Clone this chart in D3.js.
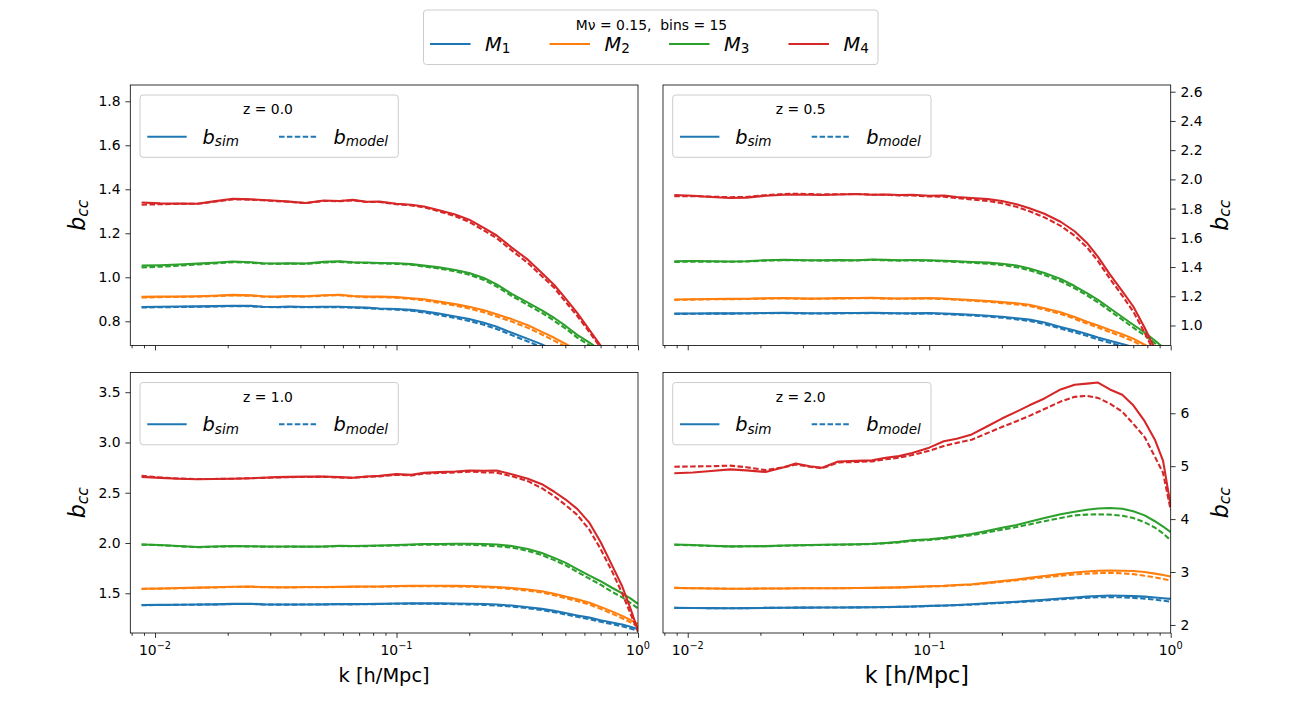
<!DOCTYPE html>
<html>
<head>
<meta charset="utf-8">
<script src="https://cdn.jsdelivr.net/npm/d3@7"></script>
<style>
  body { margin: 0; background: #fff; }
  text { font-family: "DejaVu Sans", sans-serif; fill: #000; }
</style>
</head>
<body>
<svg width="1301" height="710"></svg>
<script>
// wavenumbers shared by every curve
const k = [0.0088, 0.0105, 0.0125, 0.015, 0.0175, 0.021, 0.025, 0.028, 0.032, 0.036, 0.042, 0.05,
           0.058, 0.066, 0.075, 0.085, 0.1, 0.115, 0.13, 0.15, 0.175, 0.2, 0.23, 0.26,
           0.3, 0.35, 0.4, 0.45, 0.5, 0.56, 0.63, 0.7, 0.78, 0.86, 0.93, 1.0];

const massNames = ["1", "2", "3", "4"];
const redshifts = ["0.0", "0.5", "1.0", "2.0"];
const colors = ["#1f77b4", "#ff7f0e", "#2ca02c", "#d62728"];

// z = 0.0
const simZ0 = [
  [0.865, 0.866, 0.867, 0.868, 0.869, 0.871, 0.87, 0.866, 0.865, 0.867, 0.865, 0.866, 0.866, 0.864, 0.862, 0.858, 0.856, 0.852, 0.845, 0.835, 0.822, 0.81, 0.793, 0.775, 0.748, 0.72, 0.695, 0.668, 0.64, 0.61, 0.575, 0.54, 0.5, 0.46, 0.42, 0.38],
  [0.911, 0.912, 0.913, 0.914, 0.916, 0.92, 0.918, 0.914, 0.912, 0.915, 0.914, 0.918, 0.921, 0.915, 0.912, 0.912, 0.91, 0.905, 0.9, 0.89, 0.878, 0.866, 0.85, 0.832, 0.81, 0.782, 0.752, 0.725, 0.698, 0.668, 0.63, 0.59, 0.55, 0.51, 0.47, 0.43],
  [1.053, 1.055, 1.058, 1.062, 1.066, 1.072, 1.068, 1.064, 1.063, 1.064, 1.063, 1.07, 1.073, 1.068, 1.067, 1.065, 1.064, 1.06, 1.053, 1.045, 1.033, 1.02, 0.997, 0.968, 0.925, 0.885, 0.85, 0.815, 0.78, 0.738, 0.703, 0.668, 0.62, 0.57, 0.52, 0.47],
  [1.340, 1.336, 1.335, 1.334, 1.345, 1.357, 1.354, 1.351, 1.348, 1.344, 1.338, 1.349, 1.347, 1.352, 1.343, 1.344, 1.334, 1.330, 1.322, 1.305, 1.285, 1.262, 1.225, 1.19, 1.135, 1.08, 1.02, 0.965, 0.905, 0.838, 0.76, 0.69, 0.60, 0.50, 0.42, 0.34]
];
const modelZ0 = [
  [0.863, 0.864, 0.865, 0.866, 0.867, 0.869, 0.868, 0.865, 0.864, 0.865, 0.864, 0.864, 0.864, 0.862, 0.86, 0.856, 0.853, 0.848, 0.84, 0.829, 0.815, 0.802, 0.784, 0.765, 0.737, 0.708, 0.682, 0.655, 0.627, 0.597, 0.562, 0.528, 0.49, 0.45, 0.41, 0.37],
  [0.908, 0.91, 0.911, 0.912, 0.914, 0.918, 0.916, 0.912, 0.91, 0.913, 0.912, 0.916, 0.919, 0.913, 0.91, 0.91, 0.907, 0.901, 0.895, 0.884, 0.871, 0.858, 0.841, 0.822, 0.799, 0.77, 0.74, 0.712, 0.685, 0.655, 0.618, 0.578, 0.54, 0.5, 0.46, 0.42],
  [1.045, 1.048, 1.053, 1.058, 1.063, 1.069, 1.066, 1.062, 1.061, 1.062, 1.061, 1.067, 1.07, 1.066, 1.065, 1.063, 1.061, 1.057, 1.049, 1.04, 1.027, 1.012, 0.988, 0.958, 0.915, 0.874, 0.838, 0.802, 0.768, 0.726, 0.69, 0.655, 0.61, 0.56, 0.51, 0.46],
  [1.330, 1.332, 1.334, 1.334, 1.343, 1.354, 1.353, 1.35, 1.346, 1.343, 1.337, 1.347, 1.346, 1.35, 1.342, 1.342, 1.332, 1.327, 1.318, 1.3, 1.278, 1.252, 1.213, 1.178, 1.122, 1.065, 1.005, 0.952, 0.89, 0.825, 0.75, 0.68, 0.59, 0.5, 0.42, 0.34]
];

// z = 0.5
const simZ05 = [
  [1.081, 1.082, 1.083, 1.083, 1.084, 1.086, 1.087, 1.085, 1.084, 1.084, 1.085, 1.086, 1.087, 1.085, 1.084, 1.084, 1.085, 1.082, 1.078, 1.073, 1.067, 1.06, 1.05, 1.04, 1.02, 0.99, 0.965, 0.942, 0.918, 0.896, 0.873, 0.852, 0.827, 0.8, 0.775, 0.75],
  [1.178, 1.18, 1.181, 1.182, 1.183, 1.186, 1.188, 1.186, 1.184, 1.185, 1.187, 1.188, 1.189, 1.186, 1.185, 1.186, 1.188, 1.185, 1.18, 1.175, 1.168, 1.16, 1.152, 1.142, 1.118, 1.09, 1.058, 1.025, 1.0, 0.97, 0.94, 0.91, 0.868, 0.83, 0.8, 0.77],
  [1.44, 1.441, 1.44, 1.438, 1.44, 1.447, 1.45, 1.448, 1.447, 1.446, 1.448, 1.447, 1.452, 1.449, 1.447, 1.448, 1.447, 1.443, 1.44, 1.435, 1.43, 1.423, 1.41, 1.39, 1.36, 1.318, 1.27, 1.222, 1.175, 1.118, 1.058, 1.005, 0.952, 0.897, 0.85, 0.80],
  [1.893, 1.888, 1.88, 1.872, 1.875, 1.888, 1.895, 1.897, 1.895, 1.893, 1.896, 1.9, 1.895, 1.897, 1.893, 1.895, 1.888, 1.89, 1.88, 1.872, 1.865, 1.852, 1.83, 1.803, 1.765, 1.71, 1.645, 1.565, 1.47, 1.35, 1.235, 1.13, 0.985, 0.84, 0.7, 0.55]
];
const modelZ05 = [
  [1.079, 1.08, 1.081, 1.081, 1.082, 1.084, 1.085, 1.083, 1.082, 1.082, 1.083, 1.084, 1.085, 1.083, 1.082, 1.081, 1.082, 1.078, 1.074, 1.068, 1.061, 1.053, 1.042, 1.031, 1.01, 0.979, 0.953, 0.929, 0.904, 0.881, 0.857, 0.835, 0.809, 0.782, 0.756, 0.73],
  [1.175, 1.177, 1.179, 1.18, 1.181, 1.184, 1.186, 1.184, 1.182, 1.183, 1.185, 1.186, 1.187, 1.184, 1.183, 1.183, 1.185, 1.181, 1.176, 1.17, 1.162, 1.153, 1.144, 1.133, 1.108, 1.079, 1.046, 1.013, 0.986, 0.955, 0.924, 0.893, 0.85, 0.812, 0.78, 0.75],
  [1.435, 1.437, 1.437, 1.436, 1.438, 1.444, 1.447, 1.446, 1.445, 1.444, 1.445, 1.445, 1.449, 1.446, 1.444, 1.445, 1.443, 1.439, 1.435, 1.429, 1.423, 1.414, 1.399, 1.378, 1.346, 1.303, 1.255, 1.206, 1.158, 1.1, 1.04, 0.985, 0.932, 0.878, 0.83, 0.78],
  [1.885, 1.885, 1.882, 1.878, 1.88, 1.892, 1.9, 1.902, 1.9, 1.897, 1.898, 1.9, 1.895, 1.895, 1.89, 1.89, 1.883, 1.882, 1.872, 1.862, 1.852, 1.837, 1.812, 1.782, 1.74, 1.682, 1.615, 1.535, 1.44, 1.32, 1.205, 1.095, 0.95, 0.81, 0.67, 0.52]
];

// z = 1.0
const simZ1 = [
  [1.384, 1.385, 1.386, 1.388, 1.39, 1.395, 1.396, 1.39, 1.388, 1.388, 1.389, 1.39, 1.394, 1.392, 1.393, 1.395, 1.398, 1.4, 1.4, 1.4, 1.398, 1.396, 1.393, 1.388, 1.378, 1.362, 1.345, 1.325, 1.303, 1.28, 1.258, 1.232, 1.21, 1.19, 1.168, 1.145],
  [1.545, 1.548, 1.552, 1.556, 1.56, 1.565, 1.566, 1.562, 1.56, 1.56, 1.562, 1.563, 1.564, 1.566, 1.567, 1.568, 1.572, 1.574, 1.575, 1.575, 1.574, 1.572, 1.568, 1.563, 1.553, 1.538, 1.52, 1.495, 1.468, 1.44, 1.405, 1.365, 1.32, 1.275, 1.235, 1.195],
  [1.986, 1.98, 1.97, 1.96, 1.965, 1.97, 1.968, 1.966, 1.965, 1.966, 1.964, 1.966, 1.972, 1.97, 1.972, 1.975, 1.98, 1.985, 1.99, 1.99, 1.992, 1.993, 1.99, 1.985, 1.97, 1.94, 1.9, 1.852, 1.805, 1.74, 1.675, 1.62, 1.555, 1.5, 1.45, 1.395],
  [2.658, 2.648, 2.64, 2.635, 2.636, 2.64, 2.645, 2.65, 2.655, 2.658, 2.66, 2.662, 2.655, 2.65, 2.662, 2.668, 2.685, 2.678, 2.698, 2.705, 2.712, 2.722, 2.718, 2.722, 2.685, 2.64, 2.585, 2.51, 2.435, 2.34, 2.2, 2.01, 1.78, 1.57, 1.35, 1.13]
];
const modelZ1 = [
  [1.382, 1.383, 1.385, 1.387, 1.389, 1.393, 1.394, 1.389, 1.387, 1.387, 1.388, 1.389, 1.392, 1.39, 1.391, 1.393, 1.396, 1.397, 1.396, 1.395, 1.392, 1.389, 1.385, 1.379, 1.368, 1.351, 1.333, 1.312, 1.29, 1.266, 1.243, 1.217, 1.194, 1.172, 1.15, 1.125],
  [1.543, 1.546, 1.55, 1.554, 1.558, 1.563, 1.564, 1.56, 1.558, 1.558, 1.56, 1.561, 1.562, 1.564, 1.565, 1.565, 1.569, 1.57, 1.571, 1.57, 1.568, 1.565, 1.56, 1.554, 1.543, 1.527, 1.507, 1.48, 1.452, 1.423, 1.387, 1.345, 1.298, 1.252, 1.212, 1.17],
  [1.984, 1.978, 1.968, 1.958, 1.963, 1.968, 1.966, 1.964, 1.963, 1.964, 1.962, 1.964, 1.97, 1.968, 1.969, 1.972, 1.976, 1.98, 1.984, 1.983, 1.983, 1.982, 1.976, 1.968, 1.955, 1.922, 1.88, 1.83, 1.78, 1.712, 1.645, 1.585, 1.515, 1.46, 1.405, 1.35],
  [2.668, 2.652, 2.642, 2.636, 2.637, 2.64, 2.645, 2.648, 2.652, 2.655, 2.657, 2.658, 2.652, 2.648, 2.658, 2.663, 2.678, 2.672, 2.69, 2.696, 2.702, 2.71, 2.703, 2.7, 2.665, 2.615, 2.545, 2.465, 2.38, 2.28, 2.13, 1.94, 1.72, 1.5, 1.3, 1.12]
];

// z = 2.0
const simZ2 = [
  [2.322, 2.32, 2.318, 2.316, 2.318, 2.322, 2.325, 2.327, 2.328, 2.329, 2.33, 2.332, 2.334, 2.338, 2.342, 2.348, 2.36, 2.368, 2.378, 2.39, 2.41, 2.425, 2.44, 2.455, 2.475, 2.5, 2.52, 2.535, 2.548, 2.555, 2.553, 2.545, 2.535, 2.52, 2.505, 2.493],
  [2.70, 2.695, 2.69, 2.683, 2.685, 2.688, 2.69, 2.692, 2.693, 2.694, 2.695, 2.698, 2.7, 2.705, 2.71, 2.72, 2.73, 2.74, 2.755, 2.77, 2.8, 2.83, 2.86, 2.89, 2.925, 2.96, 2.99, 3.01, 3.025, 3.03, 3.025, 3.02, 3.0, 2.97, 2.945, 2.915],
  [3.52, 3.51, 3.495, 3.485, 3.488, 3.49, 3.5, 3.505, 3.51, 3.515, 3.52, 3.525, 3.535, 3.55, 3.57, 3.6, 3.62, 3.645, 3.68, 3.72, 3.78, 3.835, 3.89, 3.95, 4.02, 4.09, 4.14, 4.175, 4.2, 4.21, 4.195, 4.15, 4.07, 3.96, 3.86, 3.755],
  [4.865, 4.88, 4.91, 4.94, 4.92, 4.89, 4.98, 5.05, 5.0, 4.97, 5.09, 5.1, 5.11, 5.16, 5.19, 5.25, 5.35, 5.47, 5.52, 5.6, 5.76, 5.9, 6.03, 6.15, 6.28, 6.45, 6.54, 6.56, 6.58, 6.45, 6.35, 6.15, 5.85, 5.5, 5.1, 4.25]
];
const modelZ2 = [
  [2.322, 2.32, 2.318, 2.316, 2.318, 2.322, 2.325, 2.327, 2.328, 2.329, 2.33, 2.332, 2.334, 2.337, 2.341, 2.346, 2.357, 2.364, 2.373, 2.384, 2.402, 2.416, 2.43, 2.444, 2.462, 2.485, 2.502, 2.514, 2.522, 2.526, 2.522, 2.512, 2.497, 2.477, 2.458, 2.44],
  [2.70, 2.695, 2.69, 2.683, 2.685, 2.688, 2.69, 2.692, 2.693, 2.694, 2.695, 2.697, 2.699, 2.703, 2.708, 2.716, 2.725, 2.734, 2.747, 2.76, 2.788, 2.815, 2.843, 2.87, 2.9, 2.932, 2.955, 2.97, 2.98, 2.985, 2.975, 2.96, 2.93, 2.9, 2.87, 2.84],
  [3.515, 3.505, 3.492, 3.483, 3.486, 3.488, 3.497, 3.502, 3.507, 3.511, 3.516, 3.52, 3.529, 3.543, 3.561, 3.588, 3.605, 3.63, 3.66, 3.695, 3.75, 3.8, 3.85, 3.9, 3.96, 4.02, 4.07, 4.085, 4.09, 4.085, 4.065, 4.02, 3.94, 3.84, 3.73, 3.6],
  [4.99, 4.995, 5.0, 5.01, 4.98, 4.925, 4.98, 5.03, 4.99, 4.96, 5.07, 5.08, 5.09, 5.13, 5.16, 5.21, 5.29, 5.38, 5.44, 5.5, 5.63, 5.74, 5.85, 5.95, 6.08, 6.22, 6.31, 6.33, 6.29, 6.18, 6.03, 5.8, 5.55, 5.18, 4.87, 4.17]
];

// tick values
const yTicksZ0 = [0.8, 1.0, 1.2, 1.4, 1.6, 1.8];
const yTicksZ05 = [1.0, 1.2, 1.4, 1.6, 1.8, 2.0, 2.2, 2.4, 2.6];
const yTicksZ1 = [1.5, 2.0, 2.5, 3.0, 3.5];
const yTicksZ2 = [2, 3, 4, 5, 6];
const xMajor = [0.01, 0.1, 1];
const xMajorExp = ["\u22122", "\u22121", "0"];
const xMinor = [0.008, 0.009, 0.02, 0.03, 0.04, 0.05, 0.06, 0.07, 0.08, 0.09,
                0.2, 0.3, 0.4, 0.5, 0.6, 0.7, 0.8, 0.9];

const svg = d3.select("svg");
const pw = 507.7, ph = 260.5;
const tickFont = 13.9, lw = 2.08;

const panels = [
  { z: redshifts[0], sim: simZ0,  model: modelZ0,  ydom: [0.69, 1.874], yticks: yTicksZ0,  fmt: ".1f", left: 130.3, top: 85,    right: false, xlab: 0 },
  { z: redshifts[1], sim: simZ05, model: modelZ05, ydom: [0.863, 2.646], yticks: yTicksZ05, fmt: ".1f", left: 663,   top: 85,    right: true,  xlab: 0 },
  { z: redshifts[2], sim: simZ1,  model: modelZ1,  ydom: [1.105, 3.696], yticks: yTicksZ1,  fmt: ".1f", left: 130.3, top: 372.5, right: false, xlab: 19.4 },
  { z: redshifts[3], sim: simZ2,  model: modelZ2,  ydom: [1.848, 6.77],  yticks: yTicksZ2,  fmt: "d",   left: 663,   top: 372.5, right: true,  xlab: 22.2 }
];

// mathtext-like label: italic base + subscript
function mathLabel(sel, base, sub, size, subItalic) {
  sel.attr("font-size", size);
  sel.append("tspan").attr("font-style", "italic").text(base);
  sel.append("tspan")
    .attr("font-size", size * 0.7)
    .attr("dy", 2.5)
    .attr("font-style", subItalic ? "italic" : "normal")
    .text(sub);
}

panels.forEach(function(p, pi) {
  const x = d3.scaleLog().domain([0.0079, 1]).range([0, pw]);
  const y = d3.scaleLinear().domain(p.ydom).range([ph, 0]);

  const g = svg.append("g").attr("transform", `translate(${p.left},${p.top})`);

  g.append("clipPath").attr("id", "clip" + pi)
    .append("rect").attr("width", pw).attr("height", ph);

  const line = d3.line().x((d, i) => x(k[i])).y(d => y(d));

  const plot = g.append("g").attr("clip-path", `url(#clip${pi})`);
  for (let m = 0; m < 4; m++) {
    plot.append("path")
      .attr("d", line(p.sim[m]))
      .attr("fill", "none")
      .attr("stroke", colors[m])
      .attr("stroke-width", lw)
      .attr("stroke-linejoin", "round");
    plot.append("path")
      .attr("d", line(p.model[m]))
      .attr("fill", "none")
      .attr("stroke", colors[m])
      .attr("stroke-width", lw)
      .attr("stroke-dasharray", "5.5,2.4")
      .attr("stroke-linejoin", "round");
  }

  // x axis: major + minor ticks
  const xa = g.append("g").attr("transform", `translate(0,${ph})`)
    .call(d3.axisBottom(x).tickValues(xMajor).tickSize(4.9).tickFormat(""));
  const xm = g.append("g").attr("transform", `translate(0,${ph})`)
    .call(d3.axisBottom(x).tickValues(xMinor).tickSize(2.8).tickFormat(""));
  [xa, xm].forEach(a => {
    a.select(".domain").remove();
    a.selectAll("line").attr("stroke", "#000").attr("stroke-width", 0.8);
  });

  if (p.xlab) {
    xMajor.forEach(function(v, i) {
      const t = g.append("text")
        .attr("x", x(v)).attr("y", ph + 21.5)
        .attr("text-anchor", "middle")
        .attr("font-size", tickFont);
      t.append("tspan").text("10");
      t.append("tspan").attr("font-size", tickFont * 0.7).attr("dy", -5.5).text(xMajorExp[i]);
    });
    g.append("text")
      .attr("x", pw / 2).attr("y", ph + (p.xlab > 20 ? 50 : 48.5))
      .attr("text-anchor", "middle")
      .attr("font-size", p.xlab)
      .text("k [h/Mpc]");
  }

  // y axis
  const yAxis = p.right ? d3.axisRight(y) : d3.axisLeft(y);
  const ya = g.append("g")
    .attr("transform", p.right ? `translate(${pw},0)` : null)
    .call(yAxis.tickValues(p.yticks).tickFormat(d3.format(p.fmt)).tickSize(4.9).tickPadding(4.9));
  ya.select(".domain").remove();
  ya.selectAll("line").attr("stroke", "#000").attr("stroke-width", 0.8);
  ya.selectAll("text").attr("font-size", tickFont).attr("font-family", "DejaVu Sans").attr("fill", "#000");

  const yl = g.append("text")
    .attr("transform", p.right
      ? `translate(${pw + 57},${ph / 2}) rotate(-90)`
      : `translate(-45,${ph / 2}) rotate(-90)`)
    .attr("text-anchor", "middle");
  mathLabel(yl, "b", "cc", 22.2, true);

  // spines
  g.append("rect").attr("width", pw).attr("height", ph)
    .attr("fill", "none").attr("stroke", "#000").attr("stroke-width", 0.8);

  // panel legend
  const lg = g.append("g").attr("transform", "translate(9.7,10)");
  lg.append("rect").attr("width", 258.3).attr("height", 62.3).attr("rx", 3)
    .attr("fill", "#fff").attr("fill-opacity", 0.8)
    .attr("stroke", "#ccc").attr("stroke-width", 1);
  lg.append("text").attr("x", 128).attr("y", 19).attr("text-anchor", "middle")
    .attr("font-size", tickFont).text("z = " + p.z);
  lg.append("line").attr("x1", 7.3).attr("x2", 46.7).attr("y1", 41.7).attr("y2", 41.7)
    .attr("stroke", colors[0]).attr("stroke-width", lw);
  lg.append("line").attr("x1", 139).attr("x2", 177).attr("y1", 41.7).attr("y2", 41.7)
    .attr("stroke", colors[0]).attr("stroke-width", lw).attr("stroke-dasharray", "5.5,2.4");
  mathLabel(lg.append("text").attr("x", 62.5).attr("y", 48.5), "b", "sim", 19.4, true);
  mathLabel(lg.append("text").attr("x", 193.5).attr("y", 48.5), "b", "model", 19.4, true);
});

// figure legend
const fl = svg.append("g").attr("transform", "translate(423.5,10)");
fl.append("rect").attr("width", 454.5).attr("height", 54.5).attr("rx", 3)
  .attr("fill", "#fff").attr("fill-opacity", 0.8)
  .attr("stroke", "#ccc").attr("stroke-width", 1);
fl.append("text").attr("x", 228).attr("y", 20).attr("text-anchor", "middle")
  .attr("font-size", tickFont).text("M\u03bd = 0.15,  bins = 15").style("white-space", "pre");
massNames.forEach(function(n, i) {
  const ox = 6.5 + i * 119.5;
  fl.append("line").attr("x1", ox).attr("x2", ox + 40.5).attr("y1", 34).attr("y2", 34)
    .attr("stroke", colors[i]).attr("stroke-width", lw);
  mathLabel(fl.append("text").attr("x", ox + 55).attr("y", 40.5), "M", n, 19.4, false);
});
</script>
</body>
</html>
